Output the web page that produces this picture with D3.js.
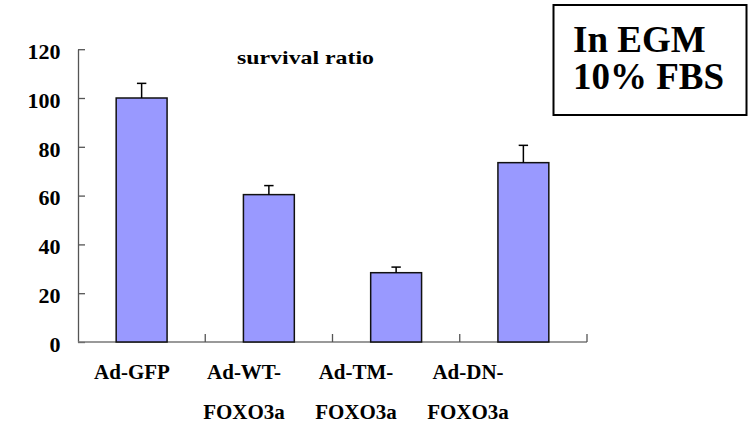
<!DOCTYPE html>
<html>
<head>
<meta charset="utf-8">
<script src="https://cdn.jsdelivr.net/npm/d3@7"></script>
<style>
  html, body { margin: 0; padding: 0; background: #fff; }
  svg { display: block; }
  text { font-family: "Liberation Serif", "Times New Roman", serif; font-weight: bold; fill: #000; }
</style>
</head>
<body>
<svg id="chart" width="749" height="424"></svg>
<script>
// ---- data ----
const categories = ["Ad-GFP", "Ad-WT-FOXO3a", "Ad-TM-FOXO3a", "Ad-DN-FOXO3a"];
const labelLines = [["Ad-GFP"], ["Ad-WT-", "FOXO3a"], ["Ad-TM-", "FOXO3a"], ["Ad-DN-", "FOXO3a"]];
const values = [100, 60.4, 28.4, 73.5];
const errors = [6.0, 3.7, 2.3, 7.1];
const yTicks = [0, 20, 40, 60, 80, 100, 120];
const title = "survival ratio";
const noteLines = ["In EGM", "10% FBS"];

// ---- layout ----
const svg = d3.select("#chart");
const x0 = 78, x1 = 587, yTop = 49.2, yBottom = 342;

const x = d3.scaleBand().domain(categories).range([x0, x1]).paddingInner(0.6).paddingOuter(0.3);
const xb = d3.scaleBand().domain(categories).range([x0, x1]);
const y = d3.scaleLinear().domain([0, 120]).range([yBottom, yTop]);
const labelX = d3.scalePoint().domain(categories).range([132, 468]);

// y axis
const yAxis = d3.axisLeft(y).tickValues(yTicks).tickSize(-7).tickSizeOuter(0).tickFormat(d3.format("d"));
const gy = svg.append("g").attr("transform", `translate(${x0},0)`).call(yAxis);
gy.select(".domain").attr("stroke", "#555").attr("stroke-width", 1.3);
gy.selectAll(".tick line").attr("stroke", "#555").attr("stroke-width", 1.3);
gy.selectAll(".tick text")
  .attr("x", -17.5)
  .attr("dy", "0.42em")
  .style("font-family", '"Liberation Serif", serif')
  .style("font-weight", "bold")
  .style("font-size", "22px")
  .attr("fill", "#000");

// x axis line + boundary ticks
svg.append("line")
  .attr("x1", x0).attr("x2", x1).attr("y1", yBottom).attr("y2", yBottom)
  .attr("stroke", "#777").attr("stroke-width", 1.5);
svg.selectAll("line.xtick")
  .data(categories)
  .join("line")
  .attr("class", "xtick")
  .attr("x1", d => xb(d) + xb.bandwidth())
  .attr("x2", d => xb(d) + xb.bandwidth())
  .attr("y1", yBottom).attr("y2", yBottom - 8)
  .attr("stroke", "#555").attr("stroke-width", 1.3);

// bars
svg.selectAll("rect.bar")
  .data(values)
  .join("rect")
  .attr("class", "bar")
  .attr("x", (d, i) => x(categories[i]))
  .attr("width", x.bandwidth())
  .attr("y", d => y(d))
  .attr("height", d => yBottom - y(d))
  .attr("fill", "#9999ff")
  .attr("stroke", "#111")
  .attr("stroke-width", 1.5);

// error bars
const eg = svg.selectAll("g.err")
  .data(values)
  .join("g")
  .attr("class", "err")
  .attr("transform", (d, i) => `translate(${x(categories[i]) + x.bandwidth() / 2},0)`);
eg.append("line")
  .attr("x1", 0).attr("x2", 0)
  .attr("y1", d => y(d))
  .attr("y2", (d, i) => y(d + errors[i]))
  .attr("stroke", "#000").attr("stroke-width", 1.5);
eg.append("line")
  .attr("x1", -4.7).attr("x2", 4.7)
  .attr("y1", (d, i) => y(d + errors[i]))
  .attr("y2", (d, i) => y(d + errors[i]))
  .attr("stroke", "#000").attr("stroke-width", 1.5);

// x labels
const lg = svg.selectAll("text.xlab")
  .data(labelLines)
  .join("text")
  .attr("class", "xlab")
  .attr("text-anchor", "middle")
  .style("font-size", "21px");
lg.selectAll("tspan")
  .data((d, i) => d.map(s => ({ s, i })))
  .join("tspan")
  .attr("x", d => labelX(categories[d.i]))
  .attr("y", (d, j) => 378.5 + j * 40)
  .text(d => d.s);

// title
svg.append("text")
  .attr("x", 305.5).attr("y", 63.5)
  .attr("text-anchor", "middle")
  .attr("textLength", 137)
  .attr("lengthAdjust", "spacingAndGlyphs")
  .style("font-size", "19px")
  .text(title);

// note box
svg.append("rect")
  .attr("x", 553.5).attr("y", 5).attr("width", 193).attr("height", 110)
  .attr("fill", "#fff").attr("stroke", "#000").attr("stroke-width", 2);
svg.selectAll("text.note")
  .data(noteLines)
  .join("text")
  .attr("class", "note")
  .attr("x", 573)
  .attr("y", (d, i) => 52 + i * 36.5)
  .style("font-size", "37px")
  .text(d => d);
</script>
</body>
</html>
